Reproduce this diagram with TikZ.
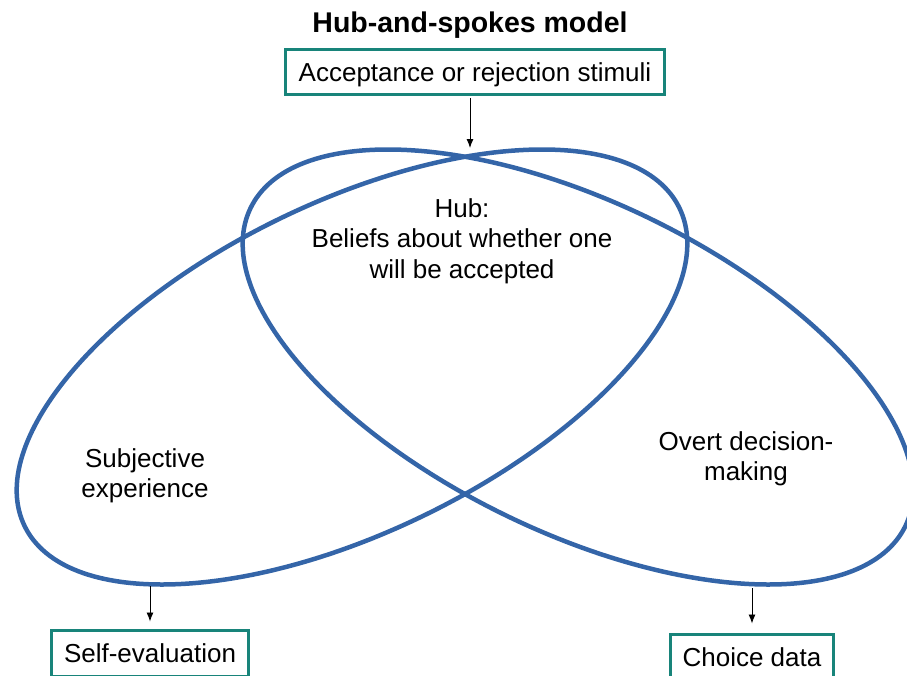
\documentclass[tikz,border=0pt]{standalone}
\usepackage{fontspec}
\setmainfont{Liberation Sans}
\usetikzlibrary{arrows.meta}
\definecolor{hubblue}{RGB}{52,101,168}
\definecolor{boxteal}{RGB}{24,132,122}
\begin{document}
\begin{tikzpicture}[x=1pt,y=-1pt,
  loop/.style={draw=hubblue, line width=4.5pt},
  outbox/.style={draw=boxteal, line width=3pt, fill=white, inner sep=0pt,
    text height=19pt, text depth=0pt, font=\fontsize{26}{30}\selectfont},
  lbl/.style={align=center, inner sep=0pt, font=\fontsize{26}{30.5}\selectfont},
  arr/.style={-{Latex[length=9pt,width=7pt]}, line width=0.9pt, black}]
\useasboundingbox (0,0) rectangle (907,675);
\clip (0,0) rectangle (907,675);

% the two overlapping loops
\draw[loop, rotate around={25.9:(352,367)}] (352,367) ellipse [x radius=364, y radius=165];
\draw[loop, rotate around={-25.9:(578,367)}] (578,367) ellipse [x radius=364, y radius=165];

% title and labels
\node[anchor=base, inner sep=0pt, font=\fontsize{28.5}{32}\selectfont\bfseries] (title) at (470,32) {Hub-and-spokes model};
\node[lbl] (hub) at (462,241) {Hub:\\Beliefs about whether one\\will be accepted};
\node[lbl] (subj) at (145,476) {Subjective\\experience};
\node[lbl] (overt) at (746,459) {Overt decision-\\making};

% input and output boxes
\node[outbox, minimum width=379.5pt, minimum height=44.5pt] (stim) at (475,72) {Acceptance or rejection stimuli};
\node[outbox, minimum width=197.5pt, minimum height=46pt] (self) at (150,653) {Self-evaluation};
\node[outbox, minimum width=163.5pt, minimum height=46pt] (choice) at (752,657) {Choice data};

% connector ends on the loops
\coordinate (hubtop) at (470,148);
\coordinate (subjbot) at (150,586);
\coordinate (overtbot) at (752,588);

\draw[arr, shorten <=2pt] (stim.south -| hubtop) -- (hubtop);
\draw[arr, shorten >=7pt] (subjbot) -- (subjbot |- self.north);
\draw[arr, shorten >=9pt] (overtbot) -- (overtbot |- choice.north);
\end{tikzpicture}
\end{document}
